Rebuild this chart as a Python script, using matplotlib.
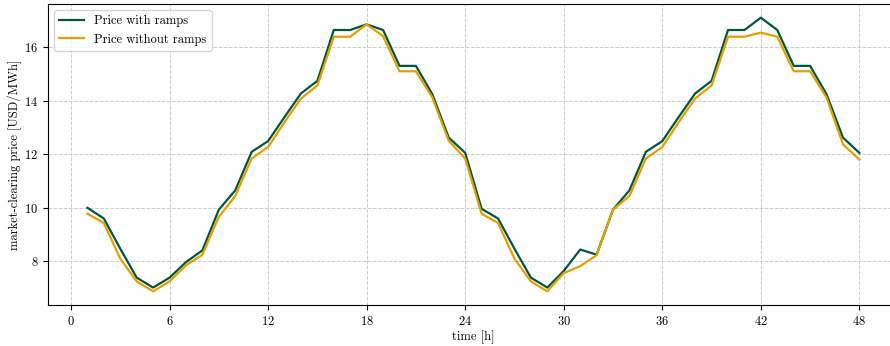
"""Market-clearing price over two days, with and without ramp constraints."""
import matplotlib
matplotlib.use("Agg")
import matplotlib.pyplot as plt

plt.rcParams["font.family"] = ["cmr10", "DejaVu Serif"]
plt.rcParams["mathtext.fontset"] = "cm"
plt.rcParams["axes.formatter.use_mathtext"] = True
plt.rcParams["font.size"] = 9

hours = list(range(1, 49))
price_with_ramps = [
    10.00, 9.60, 8.47, 7.39, 7.02, 7.39, 7.97, 8.41, 9.93, 10.65,
    12.09, 12.49, 13.39, 14.27, 14.74, 16.64, 16.64, 16.85, 16.64, 15.30,
    15.30, 14.24, 12.62, 12.05, 9.96, 9.60, 8.47, 7.39, 7.02, 7.64,
    8.44, 8.25, 9.93, 10.65, 12.09, 12.49, 13.39, 14.27, 14.74, 16.64,
    16.64, 17.10, 16.64, 15.30, 15.30, 14.24, 12.62, 12.05,
]
price_without_ramps = [
    9.78, 9.43, 8.10, 7.25, 6.88, 7.25, 7.85, 8.25, 9.66, 10.44,
    11.84, 12.27, 13.20, 14.08, 14.57, 16.39, 16.39, 16.85, 16.41, 15.10,
    15.10, 14.12, 12.50, 11.84, 9.78, 9.43, 8.10, 7.25, 6.88, 7.56,
    7.82, 8.23, 9.93, 10.44, 11.84, 12.27, 13.20, 14.08, 14.57, 16.39,
    16.39, 16.54, 16.39, 15.10, 15.10, 14.12, 12.37, 11.80,
]
x_ticks = [0, 6, 12, 18, 24, 30, 36, 42, 48]

fig = plt.figure(figsize=(8.9, 3.46), dpi=100)
ax = fig.add_axes([48 / 890, 41 / 346, 850 / 890, 301 / 346])

ax.plot(hours, price_with_ramps, color="#00573F", lw=1.6, label="Price with ramps")
ax.plot(hours, price_without_ramps, color="#E69F00", lw=1.6, label="Price without ramps")

ax.set_xlim(-1.4, 50.35)
ax.margins(y=0.05)
ax.set_xticks(x_ticks)
ax.set_yticks([8, 10, 12, 14, 16])
ax.grid(True, ls="--", color="#cccccc", lw=0.7)
ax.set_axisbelow(True)
ax.set_xlabel("time [h]", labelpad=2)
ax.set_ylabel("market-clearing price [USD/MWh]", labelpad=1.5)
ax.legend(loc="upper left")

fig.savefig("out.png", dpi=100)
plt.close(fig)
